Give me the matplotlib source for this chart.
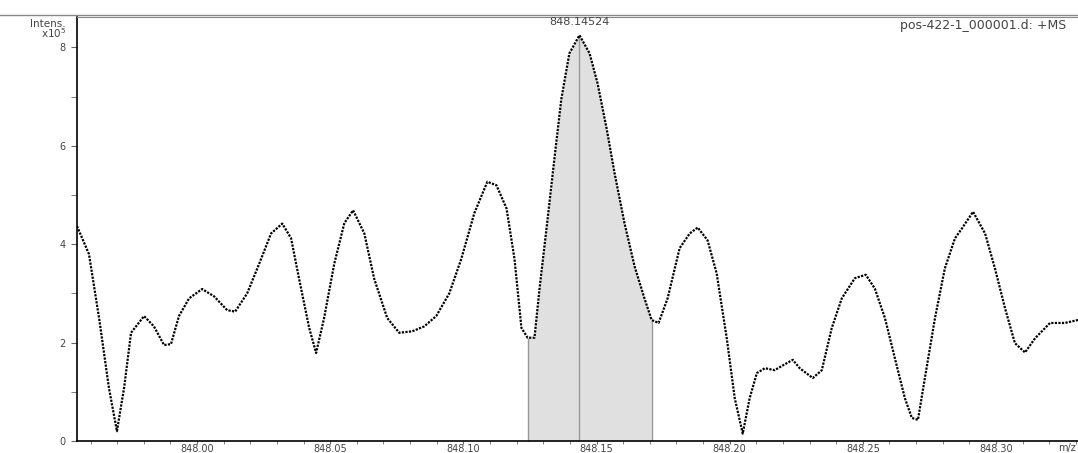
import matplotlib.pyplot as plt
import numpy as np

# m/z positions and intensities (x10^5)
mz = [847.9549, 847.9594, 847.9632, 847.9669, 847.9699, 847.9726, 847.9752,
      847.9801, 847.9838, 847.9876, 847.9902, 847.9932, 847.9970, 848.0019,
      848.0064, 848.0113, 848.0143, 848.0188, 848.0233, 848.0278, 848.0320,
      848.0353, 848.0383, 848.0421, 848.0447, 848.0477, 848.0515, 848.0553,
      848.0586, 848.0628, 848.0665, 848.0714, 848.0759, 848.0808, 848.0853,
      848.0898, 848.0947, 848.0992, 848.1041, 848.1090, 848.1124, 848.1162,
      848.1192, 848.1218, 848.1241, 848.1267, 848.1286, 848.1316, 848.1342,
      848.1368, 848.1398, 848.1436, 848.1474, 848.1504, 848.1538, 848.1568,
      848.1605, 848.1643, 848.1680, 848.1707, 848.1733, 848.1767, 848.1812,
      848.1850, 848.1880, 848.1917, 848.1951, 848.1989, 848.2019, 848.2049,
      848.2075, 848.2102, 848.2132, 848.2169, 848.2207, 848.2237, 848.2263,
      848.2312, 848.2346, 848.2383, 848.2421, 848.2470, 848.2511, 848.2545,
      848.2583, 848.2620, 848.2658, 848.2684, 848.2707, 848.2733, 848.2771,
      848.2808, 848.2846, 848.2872, 848.2914, 848.2959, 848.2996, 848.3034,
      848.3071, 848.3109, 848.3147, 848.3203, 848.3259, 848.3308]
intens = [4.37, 3.80, 2.50, 1.08, 0.20, 1.08, 2.20,
          2.54, 2.33, 1.95, 1.97, 2.54, 2.90, 3.09,
          2.94, 2.66, 2.63, 3.00, 3.60, 4.22, 4.42,
          4.12, 3.30, 2.30, 1.79, 2.50, 3.60, 4.43,
          4.69, 4.22, 3.30, 2.50, 2.20, 2.23, 2.33,
          2.54, 3.00, 3.70, 4.63, 5.27, 5.20, 4.73,
          3.70, 2.30, 2.10, 2.10, 3.10, 4.50, 5.75,
          6.96, 7.88, 8.25, 7.88, 7.27, 6.35, 5.44,
          4.43, 3.55, 2.90, 2.46, 2.40, 2.90, 3.92,
          4.22, 4.34, 4.08, 3.41, 2.09, 0.87, 0.15,
          0.87, 1.38, 1.48, 1.44, 1.56, 1.65, 1.48,
          1.28, 1.44, 2.29, 2.90, 3.31, 3.38, 3.10,
          2.50, 1.69, 0.87, 0.47, 0.43, 1.28, 2.50,
          3.51, 4.12, 4.32, 4.66, 4.22, 3.51, 2.70,
          1.99, 1.80, 2.09, 2.40, 2.40, 2.46]

peak_mz = 848.1436
peak_label = "848.14524"
region = (848.124, 848.171)
xticks = [848.00, 848.05, 848.10, 848.15, 848.20, 848.25, 848.30]
xlabels = ['848.00', '848.05', '848.10', '848.15', '848.20', '848.25', '848.30']

mz = np.array(mz)
intens = np.array(intens)

fig = plt.figure(figsize=(10.78, 4.53), dpi=100)
ax = fig.add_axes([0.0714, 12 / 453, 0.9286, 1 - 12 / 453 - 17 / 453])

# shaded integration area
m = (mz >= region[0]) & (mz <= region[1])
ax.fill_between(mz[m], 0, intens[m], color='#e0e0e0', lw=0, zorder=1)
ax.vlines([mz[m][0], mz[m][-1]], 0, [intens[m][0], intens[m][-1]],
          color='#999999', lw=1, zorder=2)
ax.vlines(peak_mz, 0, intens.max(), color='#999999', lw=1, zorder=2)

ax.plot(mz, intens, color='black', ls=(0, (1, 0.6)), lw=1.6, zorder=3)
ax.text(peak_mz, 8.42, peak_label, ha='center', va='bottom', fontsize=8, color='#444444')

ax.set_xlim(mz[0], mz[-1])
ax.set_ylim(0, 8.62)
ax.set_xticks(xticks)
ax.set_xticklabels(xlabels)
ax.set_xticks(np.arange(847.96, 848.335, 0.01), minor=True)
ax.set_yticks([0, 2, 4, 6, 8])
ax.set_yticks([1, 3, 5, 7], minor=True)
ax.tick_params(axis='both', which='both', labelcolor='#444444', color='#666666')
ax.tick_params(axis='x', which='both', length=2.5, pad=0, labelsize=7)
ax.tick_params(axis='y', which='both', length=4, pad=4, labelsize=7)

ax.spines['right'].set_visible(False)
ax.spines['top'].set_color('#888888')
ax.spines['left'].set_linewidth(1.2)
ax.spines['bottom'].set_linewidth(1.2)

fig.add_artist(plt.Line2D([0, 1], [1 - 15 / 453, 1 - 15 / 453], color='#888888', lw=1))
fig.text(66 / 1078, 1 - 19 / 453, 'Intens.\nx10$^5$', ha='right', va='top', fontsize=7.5,
         color='#444444', linespacing=0.8)
fig.text(900 / 1078, 1 - 19 / 453, 'pos-422-1_000001.d: +MS', ha='left', va='top',
         fontsize=9, color='#444444')
fig.text(1058 / 1078, 1 - 443 / 453, 'm/z', ha='left', va='top', fontsize=7, color='#444444')

fig.savefig('out.png', dpi=100)
